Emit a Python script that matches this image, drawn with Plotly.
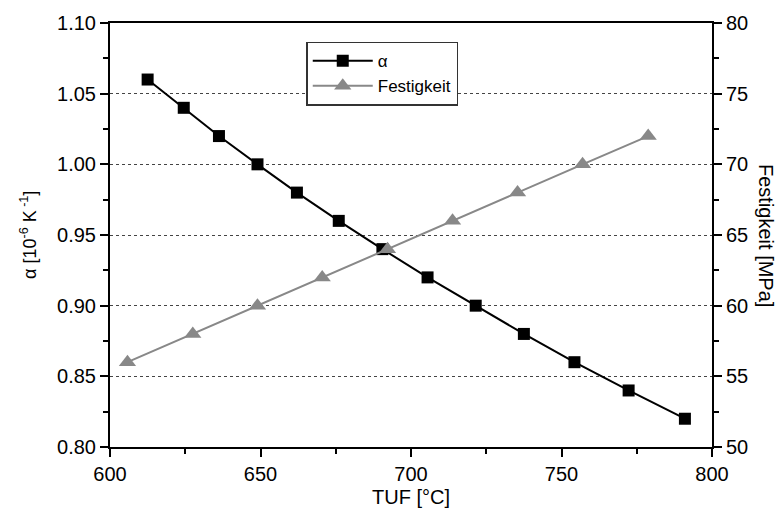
import plotly.graph_objects as go

tuf_alpha = [612.5, 624.5, 636.2, 649.0, 662.1, 676.0, 690.5, 705.5, 721.5, 737.5, 754.3, 772.3, 791.0]
alpha = [1.06, 1.04, 1.02, 1.00, 0.98, 0.96, 0.94, 0.92, 0.90, 0.88, 0.86, 0.84, 0.82]
tuf_fest = [605.8, 627.5, 649.0, 670.5, 692.2, 713.8, 735.4, 757.0, 778.8]
festigkeit = [56, 58, 60, 62, 64, 66, 68, 70, 72]

FONT = "Liberation Sans, Arial, sans-serif"
TS = 20

fig = go.Figure()
fig.add_trace(go.Scatter(x=tuf_alpha, y=alpha, name="α", mode="lines+markers",
                         line=dict(color="black", width=2),
                         marker=dict(symbol="square", size=12, color="black")))
fig.add_trace(go.Scatter(x=tuf_fest, y=festigkeit, name="Festigkeit", mode="lines+markers",
                         yaxis="y2",
                         line=dict(color="#888888", width=2),
                         marker=dict(symbol="triangle-up", size=15, color="#888888")))

axis_common = dict(showline=True, linecolor="black", linewidth=2, ticks="outside",
                   ticklen=8, tickwidth=2, tickcolor="black", zeroline=False,
                   tickfont=dict(family=FONT, size=TS, color="black"))

fig.update_layout(
    width=777, height=517,
    margin=dict(l=110, r=65, t=19, b=69),
    plot_bgcolor="white", paper_bgcolor="white",
    font=dict(family=FONT, size=TS, color="black"),
    showlegend=True,
    legend=dict(x=0.326, y=0.956, xanchor="left", yanchor="top",
                bgcolor="white", bordercolor="#333333", borderwidth=1.5,
                font=dict(family=FONT, size=17), tracegroupgap=0, itemwidth=60),
    xaxis=dict(range=[600, 800], dtick=50, title=dict(text="TUF [°C]", standoff=6,
               font=dict(family=FONT, size=TS)), mirror=True, showgrid=False,
               minor=dict(dtick=25, ticklen=5, tickwidth=1.5, tickcolor="black", ticks="outside"),
               **axis_common),
    yaxis=dict(range=[0.80, 1.10], dtick=0.05, tickformat=".2f",
               showgrid=True, gridcolor="#444444", griddash="3px,3px", gridwidth=1,
               minor=dict(dtick=0.025, ticklen=5, tickwidth=1.5, tickcolor="black", ticks="outside"),
               **axis_common),
    yaxis2=dict(range=[50, 80], dtick=5, overlaying="y", side="right", showgrid=False,
                minor=dict(dtick=2.5, ticklen=5, tickwidth=1.5, tickcolor="black", ticks="outside"),
                **axis_common),
)

fig.add_annotation(text="α [10<sup>-6</sup> K<sup> -1</sup>]", textangle=-90, xref="paper", yref="paper",
                   x=0.0, y=0.5, xanchor="center", yanchor="middle", xshift=-82, showarrow=False,
                   font=dict(family=FONT, size=18, color="black"))
fig.add_annotation(text="Festigkeit [MPa]", textangle=90, xref="paper", yref="paper",
                   x=1.0, y=0.5, xanchor="center", yanchor="middle", xshift=54, showarrow=False,
                   font=dict(family=FONT, size=TS, color="black"))

fig.write_html("out.html")
